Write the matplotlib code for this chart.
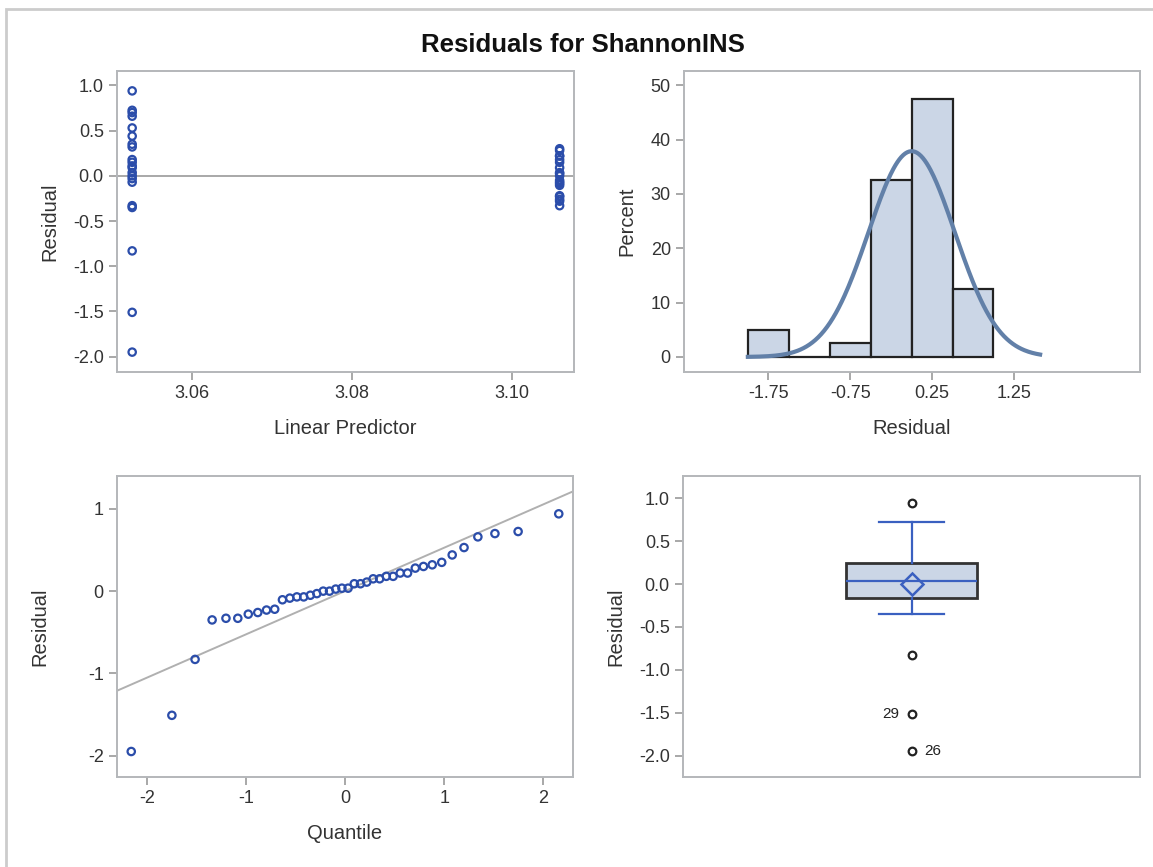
import numpy as np
import matplotlib
matplotlib.use('Agg')
import matplotlib.pyplot as plt
from matplotlib.patches import Rectangle
from statistics import NormalDist

plt.rcParams['font.family'] = ['Liberation Sans', 'DejaVu Sans']
plt.rcParams['axes.unicode_minus'] = False

# residuos, separados pelos dois valores do preditor linear
pred_baixo = 3.0525
pred_alto = 3.106
resid_baixo = [0.94, 0.725, 0.70, 0.66, 0.53, 0.44, 0.35, 0.32, 0.18, 0.15, 0.11,
               0.09, 0.036, 0.0, -0.03, -0.07, -0.33, -0.35, -0.83, -1.51, -1.95]
resid_alto = [0.30, 0.28, 0.22, 0.22, 0.18, 0.15, 0.09, 0.036, 0.025, 0.0,
              -0.05, -0.07, -0.085, -0.105, -0.22, -0.23, -0.26, -0.28, -0.33]

# histograma
hist_bins = [-2.0, -1.5, -1.0, -0.5, 0.0, 0.5, 1.0]
hist_ticks = [-1.75, -0.75, 0.25, 1.25]

# observacoes marcadas no boxplot
outlier_ids = [29, 26]
outlier_vals = [-1.51, -1.95]

resid = np.array(resid_baixo + resid_alto)
n = len(resid)
media = resid.mean()
desvio = resid.std(ddof=1)

azul = '#2B4DAA'
cinza_eixo = '#B4B7BA'
texto = '#333333'
preench = '#CBD6E6'
tam_tick = 13
tam_rot = 14.5


def estilo(ax):
    for s in ax.spines.values():
        s.set_color(cinza_eixo)
        s.set_linewidth(1.4)
    ax.tick_params(colors='#999999', labelcolor=texto, labelsize=tam_tick, length=6, width=1.2)


fig = plt.figure(figsize=(11.53, 8.67), dpi=100)
fig.patches.append(Rectangle((6 / 1153, -0.1), 1.2, 1 - 9 / 867 + 0.1, transform=fig.transFigure,
                             fill=False, edgecolor='#CCCCCC', linewidth=2))
fig.text(0.506, 1 - 45 / 867, 'Residuals for ShannonINS', ha='center', va='center',
         fontsize=18.5, fontweight='bold', color='#111111')

# residuos x preditor linear
ax1 = fig.add_axes([117 / 1153, 1 - 372 / 867, 457 / 1153, 301 / 867])
ax1.axhline(0, color='#A8A8A8', linewidth=1.4, zorder=1)
ax1.scatter([pred_baixo] * len(resid_baixo), resid_baixo, s=28, facecolors='none',
            edgecolors=azul, linewidths=1.6, zorder=3)
ax1.scatter([pred_alto] * len(resid_alto), resid_alto, s=28, facecolors='none',
            edgecolors=azul, linewidths=1.6, zorder=3)
ax1.set_xlim(3.0506, 3.1078)
ax1.set_ylim(-2.17, 1.16)
ax1.set_xticks([3.06, 3.08, 3.10])
ax1.set_xticklabels(['3.06', '3.08', '3.10'])
ax1.set_yticks([1.0, 0.5, 0.0, -0.5, -1.0, -1.5, -2.0])
ax1.set_yticklabels(['%.1f' % v for v in [1.0, 0.5, 0.0, -0.5, -1.0, -1.5, -2.0]])
ax1.set_xlabel('Linear Predictor', fontsize=tam_rot, color=texto, labelpad=12)
ax1.set_ylabel('Residual', fontsize=tam_rot, color=texto, labelpad=10)
estilo(ax1)

# histograma com curva normal
ax2 = fig.add_axes([684 / 1153, 1 - 372 / 867, 456 / 1153, 301 / 867])
ax2.hist(resid, bins=hist_bins, weights=np.full(n, 100.0 / n), color=preench,
         edgecolor='#222222', linewidth=1.6, zorder=2)
xs = np.linspace(-2.0, 1.57, 300)
largura = hist_bins[1] - hist_bins[0]
ys = 100 * largura * np.exp(-0.5 * ((xs - media) / desvio) ** 2) / (desvio * np.sqrt(2 * np.pi))
ax2.plot(xs, ys, color='#6280A8', linewidth=3, zorder=3)
ax2.set_xlim(-2.78, 2.79)
ax2.set_ylim(-2.76, 52.6)
ax2.set_xticks(hist_ticks)
ax2.set_xticklabels(['%.2f' % v for v in hist_ticks])
ax2.set_yticks([0, 10, 20, 30, 40, 50])
ax2.set_xlabel('Residual', fontsize=tam_rot, color=texto, labelpad=12)
ax2.set_ylabel('Percent', fontsize=tam_rot, color=texto, labelpad=10)
estilo(ax2)

# grafico quantil-quantil
ordenado = np.sort(resid)
quantis = np.array([NormalDist().inv_cdf((i + 1 - 0.375) / (n + 0.25)) for i in range(n)])
ax3 = fig.add_axes([117 / 1153, 1 - 777 / 867, 456 / 1153, 301 / 867])
linha_x = np.array([-2.3, 2.3])
ax3.plot(linha_x, media + desvio * linha_x, color='#B0B0B0', linewidth=1.4, zorder=1)
ax3.scatter(quantis, ordenado, s=28, facecolors='none', edgecolors=azul, linewidths=1.6, zorder=3)
ax3.set_xlim(-2.3, 2.3)
ax3.set_ylim(-2.26, 1.40)
ax3.set_xticks([-2, -1, 0, 1, 2])
ax3.set_yticks([1, 0, -1, -2])
ax3.set_xlabel('Quantile', fontsize=tam_rot, color=texto, labelpad=12)
ax3.set_ylabel('Residual', fontsize=tam_rot, color=texto, labelpad=28)
estilo(ax3)

# boxplot
q1, med, q3 = np.percentile(resid, [25, 50, 75], method='averaged_inverted_cdf')
iqr = q3 - q1
dentro = resid[(resid >= q1 - 1.5 * iqr) & (resid <= q3 + 1.5 * iqr)]
fora = resid[(resid < q1 - 1.5 * iqr) | (resid > q3 + 1.5 * iqr)]
stats = [{'med': med, 'q1': q1, 'q3': q3, 'whislo': dentro.min(), 'whishi': dentro.max(),
          'mean': media, 'fliers': fora}]
ax4 = fig.add_axes([683 / 1153, 1 - 777 / 867, 457 / 1153, 301 / 867])
ax4.bxp(stats, positions=[0], widths=0.288, capwidths=0.143, showmeans=True, patch_artist=True,
        boxprops=dict(facecolor=preench, edgecolor='#333333', linewidth=2),
        whiskerprops=dict(color='#3A60C0', linewidth=1.6),
        capprops=dict(color='#3A60C0', linewidth=1.6),
        medianprops=dict(color='#3A60C0', linewidth=1.6),
        meanprops=dict(marker='D', markersize=11, markerfacecolor='none',
                       markeredgecolor='#3A60C0', markeredgewidth=1.8),
        flierprops=dict(marker='o', markersize=5.5, markerfacecolor='none',
                        markeredgecolor='#222222', markeredgewidth=1.6))
for ident, val, lado in zip(outlier_ids, outlier_vals, ['left', 'right']):
    dx = -9 if lado == 'left' else 9
    ax4.annotate(str(ident), (0, val), xytext=(dx, 0), textcoords='offset points',
                 ha='right' if lado == 'left' else 'left', va='center', fontsize=11, color='#222222')
ax4.set_xlim(-0.5, 0.5)
ax4.set_ylim(-2.25, 1.26)
ax4.set_xticks([])
ax4.set_yticks([1.0, 0.5, 0.0, -0.5, -1.0, -1.5, -2.0])
ax4.set_yticklabels(['%.1f' % v for v in [1.0, 0.5, 0.0, -0.5, -1.0, -1.5, -2.0]])
ax4.set_ylabel('Residual', fontsize=tam_rot, color=texto, labelpad=10)
estilo(ax4)

fig.savefig('out.png', dpi=100, facecolor='white')
